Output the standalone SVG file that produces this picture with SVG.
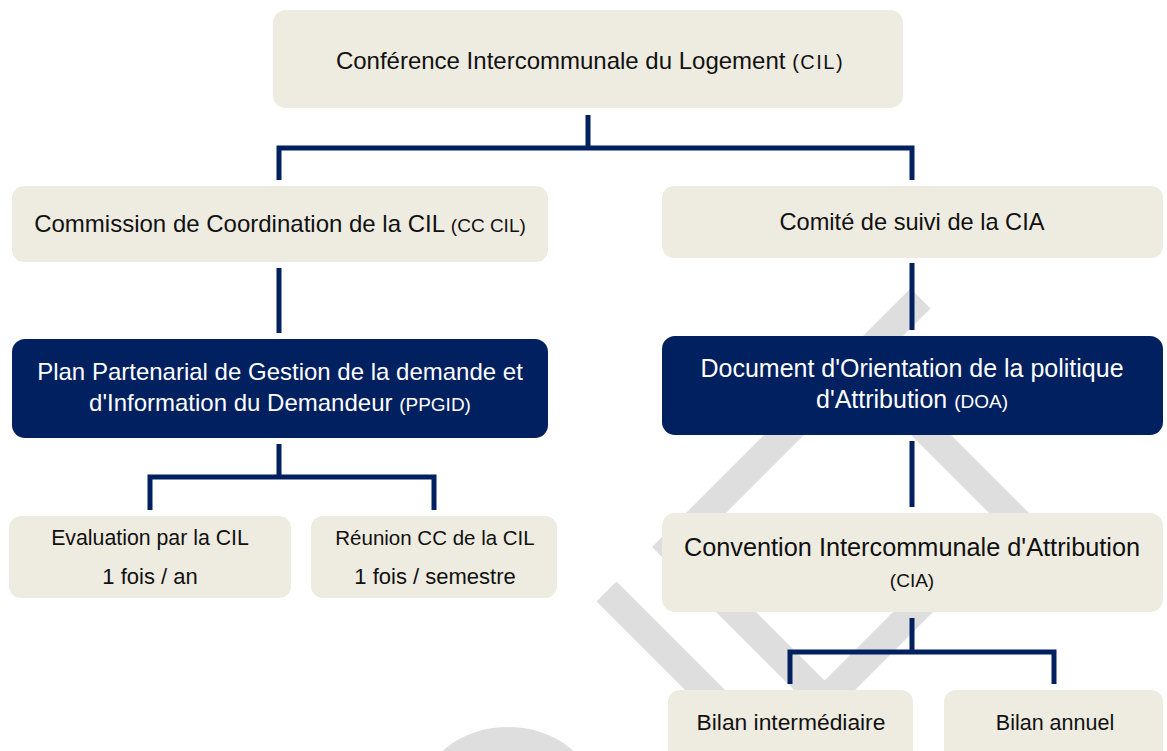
<svg xmlns="http://www.w3.org/2000/svg" width="1167" height="751" viewBox="0 0 1167 751">
<style>
.box{fill:#EEEBE0}
.dark{fill:#002060}
.t{font-family:"Liberation Sans",Arial,sans-serif;font-size:24px;fill:#111;text-anchor:middle}
.w{fill:#fff}
.s{font-size:19px}
.conn{fill:none;stroke:#002060;stroke-width:5}
.wm{fill:#DEDEDE}
</style>
<rect width="1167" height="751" fill="#fff"/>
<g id="watermark">
<polygon class="wm" points="910.5,288.5 930.5,308.5 672,567 652,547"/>
<polygon class="wm" points="847.5,371.5 867.5,351.5 1058,542 1038,562"/>
<polygon class="wm" points="596.5,601.5 616.5,581.5 795,760 755,760"/>
<polygon class="wm" points="684,580 724,580 824.5,680.5 925,580 965,580 824.5,720.5"/>
<ellipse class="wm" cx="508" cy="795" rx="86" ry="68"/>
</g>
<g id="connectors">
<path class="conn" d="M588,115 V148 M279,180 V148 H912 V180"/>
<path class="conn" d="M279,268 V333"/>
<path class="conn" d="M279,444 V477 M150,510 V477 H434 V510"/>
<path class="conn" d="M912,263 V330"/>
<path class="conn" d="M912,441 V507"/>
<path class="conn" d="M912,618 V652 M790,684 V652 H1054 V684"/>
</g>
<g id="cil">
<rect class="box" x="273" y="10" width="630" height="98" rx="13"/>
<text class="t" x="590" y="69">Conférence Intercommunale du Logement <tspan style="font-size:20px;letter-spacing:1.5px">(CIL)</tspan></text>
</g>
<g id="cccil">
<rect class="box" x="12" y="186" width="536" height="76" rx="12"/>
<text class="t" x="280" y="232">Commission de Coordination de la CIL <tspan class="s">(CC CIL)</tspan></text>
</g>
<g id="comite">
<rect class="box" x="662" y="186" width="501" height="72" rx="12"/>
<text class="t" x="912" y="230" style="font-size:23.6px">Comité de suivi de la CIA</text>
</g>
<g id="ppgid">
<rect class="dark" x="12" y="339" width="536" height="99" rx="13"/>
<text class="t w" x="280" y="380">Plan Partenarial de Gestion de la demande et</text>
<text class="t w" x="280" y="411">d'Information du Demandeur <tspan class="s">(PPGID)</tspan></text>
</g>
<g id="doa">
<rect class="dark" x="662" y="336" width="501" height="99" rx="13"/>
<text class="t w" x="912" y="377" style="font-size:25px">Document d'Orientation de la politique</text>
<text class="t w" x="912" y="408" style="font-size:25px">d'Attribution <tspan class="s">(DOA)</tspan></text>
</g>
<g id="evaluation">
<rect class="box" x="9" y="516" width="282" height="82" rx="12"/>
<text class="t" x="150" y="545" style="font-size:21.3px">Evaluation par la CIL</text>
<text class="t" x="150" y="584" style="font-size:22px">1 fois / an</text>
</g>
<g id="reunion">
<rect class="box" x="311" y="516" width="246" height="82" rx="12"/>
<text class="t" x="435" y="545" style="font-size:20.5px">Réunion CC de la CIL</text>
<text class="t" x="435" y="584" style="font-size:22px">1 fois / semestre</text>
</g>
<g id="cia">
<rect class="box" x="662" y="513" width="501" height="99" rx="13"/>
<text class="t" x="912" y="556" style="font-size:25.3px">Convention Intercommunale d'Attribution</text>
<text class="t s" x="912" y="587">(CIA)</text>
</g>
<g id="bilan-intermediaire">
<rect class="box" x="668" y="690" width="245" height="80" rx="12"/>
<text class="t" x="791" y="730" style="font-size:22.8px">Bilan intermédiaire</text>
</g>
<g id="bilan-annuel">
<rect class="box" x="944" y="690" width="219" height="80" rx="12"/>
<text class="t" x="1055" y="730" style="font-size:21.5px">Bilan annuel</text>
</g>
</svg>
